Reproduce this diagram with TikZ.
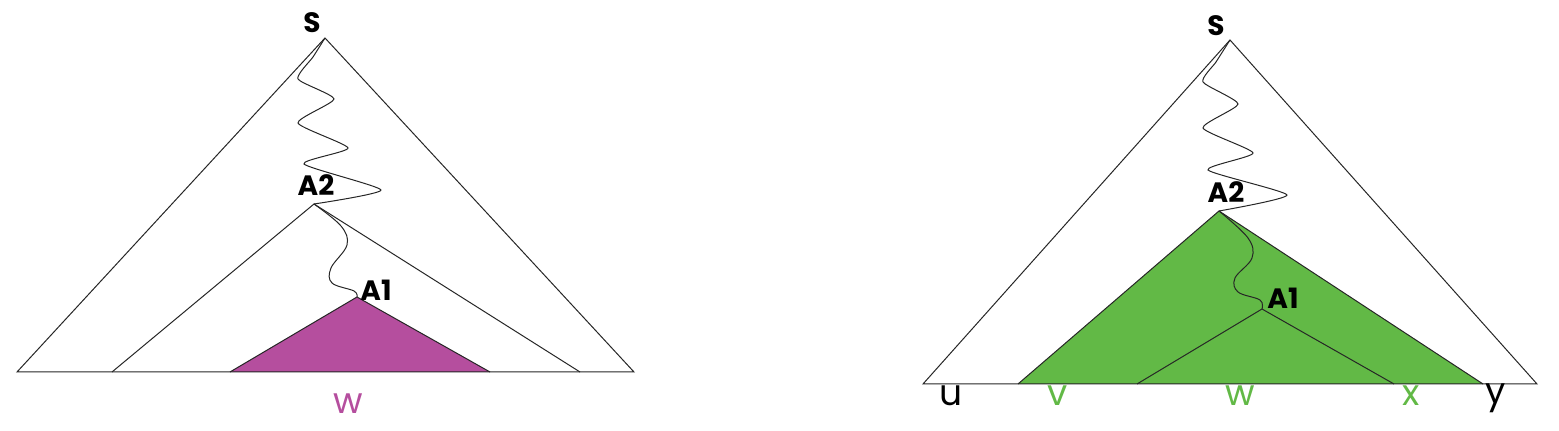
\documentclass[tikz,border=0pt]{standalone}
\usepackage{fontspec}
\setmainfont{Poppins}
\definecolor{purp}{RGB}{181,78,158}
\definecolor{grn}{RGB}{98,185,70}
\begin{document}
\begin{tikzpicture}[x=0.5pt,y=-0.5pt,
  edge/.style={draw=black!85,line width=0.5pt},
  wig/.style={draw=black!85,line width=0.5pt},
  lab/.style={font=\fontsize{14}{16}\selectfont\bfseries,inner sep=0pt},
  big/.style={font=\fontsize{18}{20}\selectfont,inner sep=0pt}]
\useasboundingbox (0,0) rectangle (1559,431);
% ---------- left tree ----------
\coordinate (S1) at (325,38);
\coordinate (L1) at (17,372);
\coordinate (R1) at (634,372);
\coordinate (A21) at (314,204);
\coordinate (L21) at (112,372);
\coordinate (R21) at (580,372);
\coordinate (A11) at (357,297);
\coordinate (L11) at (230,372);
\coordinate (R11) at (490,372);
\fill[purp] (A11) -- (L11) -- (R11) -- cycle;
\draw[edge] (L1) -- (S1) -- (R1) -- cycle;
\draw[edge] (L21) -- (A21) -- (R21);
\draw[edge] (L11) -- (A11) -- (R11);
\draw[wig] plot[smooth,tension=0.35] coordinates {(325,38) (313,57) (298,79) (334,99) (298,123) (348,148) (304,164) (381,190) (314,204)};
\draw[wig] plot[smooth,tension=0.6] coordinates {(314,204) (341,226) (347,245) (331,268) (332,283) (354,291) (357,297)};
\node[lab] (s1) at (312,23) {S};
\node[lab] (a21) at (316,185) {A2};
\node[lab] (a11) at (376,290) {A1};
\node[big,text=purp] (w1) at (348,404) {w};
% ---------- right tree ----------
\coordinate (S2) at (1230,40);
\coordinate (L2) at (923,384);
\coordinate (R2) at (1537,384);
\coordinate (A22) at (1219,211);
\coordinate (L22) at (1018,384);
\coordinate (R22) at (1483,384);
\coordinate (A12) at (1262,309);
\coordinate (L12) at (1137,384);
\coordinate (R12) at (1394,384);
\fill[grn] (A22) -- (L22) -- (R22) -- cycle;
\draw[edge] (L2) -- (S2) -- (R2) -- cycle;
\draw[edge] (L22) -- (A22) -- (R22);
\draw[edge] (L12) -- (A12) -- (R12);
\draw[wig] plot[smooth,tension=0.35] coordinates {(1230,40) (1216,62) (1203,82) (1238,104) (1203,128) (1253,153) (1208,170) (1287,195) (1219,211)};
\draw[wig] plot[smooth,tension=0.6] coordinates {(1219,211) (1248,238) (1252,258) (1235,278) (1238,292) (1260,300) (1262,309)};
\node[lab] (s2) at (1216,26) {S};
\node[lab] (a22) at (1226,192) {A2};
\node[lab] (a12) at (1283,298) {A1};
\node[big] (u2) at (951,396) {u};
\node[big,text=grn] (v2) at (1058,396) {v};
\node[big,text=grn] (w2) at (1240,396) {w};
\node[big,text=grn] (x2) at (1411,396) {x};
\node[big] (y2) at (1496,398) {y};
\end{tikzpicture}
\end{document}
